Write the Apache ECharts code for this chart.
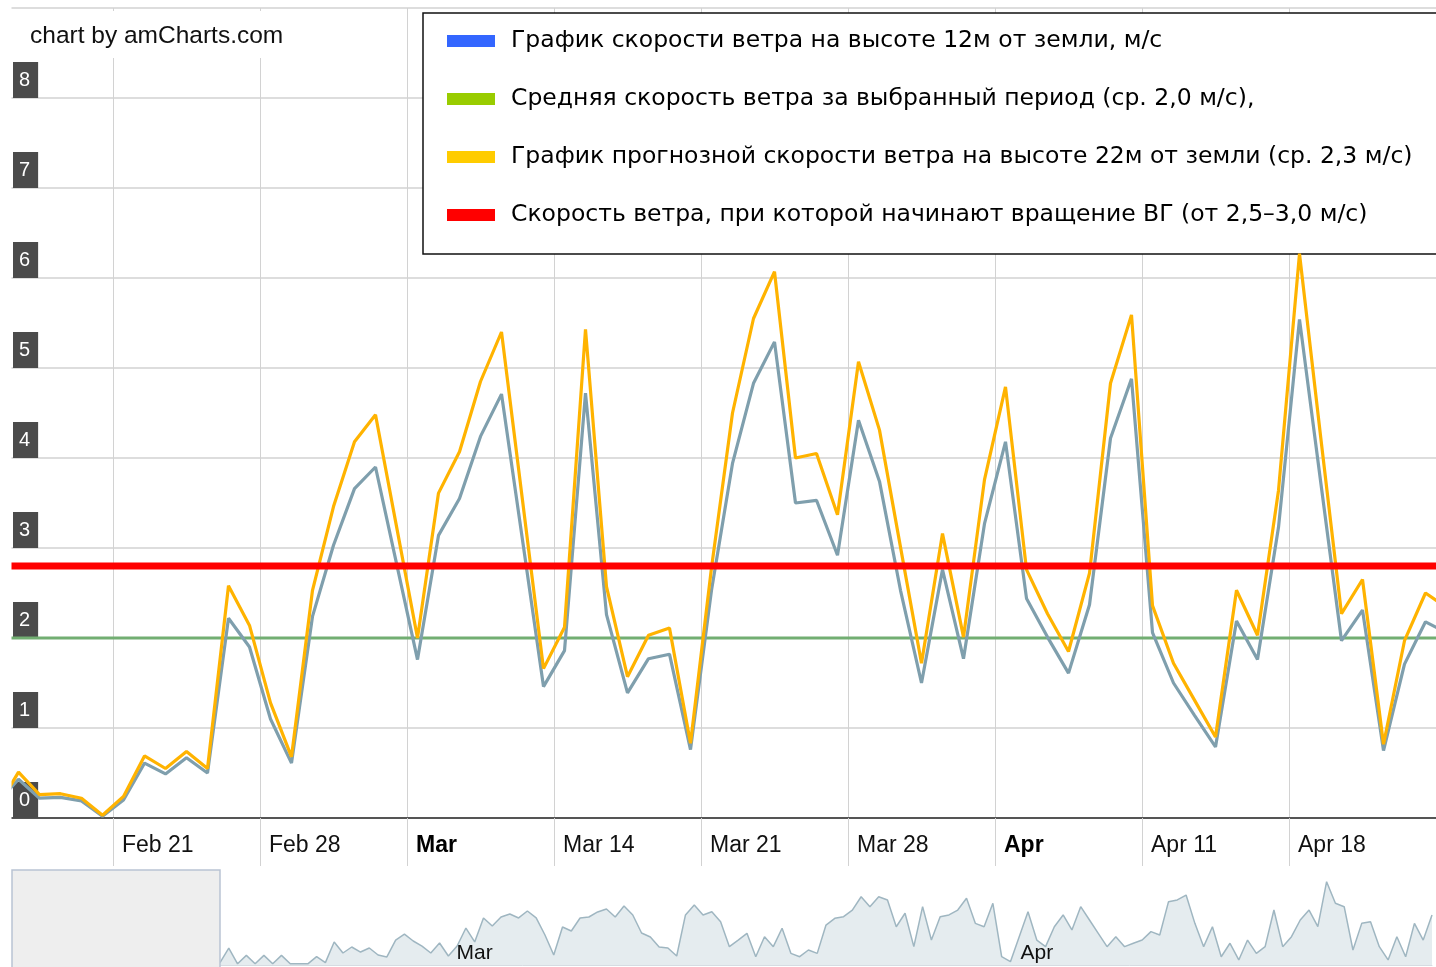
<!DOCTYPE html>
<html>
<head>
<meta charset="utf-8">
<title>Скорость ветра</title>
<script src="https://cdn.jsdelivr.net/npm/echarts@6/dist/echarts.min.js"></script>
<style>
html, body { margin: 0; padding: 0; background: #fff; }
#chart { width: 1436px; height: 967px; }
</style>
</head>
<body>
<div id="chart"></div>
<script>
// x = days since Feb 14; readings are taken at noon, first one on Feb 15
const firstDay = 1.5
const wind12 = [
  0.17, 0.43, 0.22, 0.23, 0.19, 0.02, 0.20, 0.61, 0.49, 0.67,
  0.50, 2.22, 1.90, 1.10, 0.61, 2.24, 3.03, 3.66, 3.90, 2.83,
  1.76, 3.14, 3.55, 4.24, 4.71, 3.09, 1.46, 1.86, 4.72, 2.26,
  1.39, 1.77, 1.82, 0.76, 2.53, 3.94, 4.83, 5.29, 3.50, 3.53,
  2.92, 4.42, 3.74, 2.53, 1.50, 2.76, 1.77, 3.27, 4.18, 2.44,
  2.01, 1.61, 2.37, 4.22, 4.88, 2.06, 1.50, 1.14, 0.79, 2.19,
  1.76, 3.23, 5.54, 3.75, 1.97, 2.31, 0.75, 1.71, 2.18, 2.06
]
const forecast22 = [
  0.12, 0.51, 0.26, 0.27, 0.22, 0.03, 0.24, 0.69, 0.55, 0.74,
  0.55, 2.58, 2.14, 1.28, 0.68, 2.53, 3.46, 4.18, 4.48, 3.24,
  2.00, 3.61, 4.07, 4.85, 5.40, 3.53, 1.66, 2.12, 5.43, 2.57,
  1.57, 2.03, 2.11, 0.83, 2.78, 4.50, 5.55, 6.07, 4.00, 4.05,
  3.37, 5.07, 4.31, 3.01, 1.72, 3.16, 2.01, 3.76, 4.79, 2.76,
  2.27, 1.85, 2.72, 4.83, 5.59, 2.36, 1.72, 1.31, 0.90, 2.53,
  2.03, 3.64, 6.27, 4.25, 2.27, 2.65, 0.82, 1.97, 2.50, 2.34
]
const avgSpeed = 2.0
const startSpeed = 2.8
const dayRange = [0, 70]

const xTickDays = [7, 14, 21, 28, 35, 42, 49, 56, 63]
const xTickText = ['Feb 21', 'Feb 28', 'Mar', 'Mar 14', 'Mar 21', 'Mar 28', 'Apr', 'Apr 11', 'Apr 18']
const monthTicks = ['Mar', 'Apr']

// scrollbar preview, half-day steps
const navValues = [
  0.2, 1.4, 0.1, 0.8, 0.1, 0.8, 0.1, 0.8, 0.1, 0.1,
  0.1, 0.7, 0.2, 1.92, 1.0, 1.5, 1.08, 1.42, 0.83, 0.67,
  2.08, 2.58, 2.0, 1.58, 1.0, 1.83, 0.75, 1.58, 3.08, 1.92,
  3.92, 3.25, 4.0, 4.25, 3.92, 4.5, 3.92, 2.5, 0.83, 3.17,
  2.83, 3.92, 4.0, 4.42, 4.67, 4.0, 4.92, 4.17, 2.67, 2.33,
  1.5, 1.42, 0.75, 4.17, 5.0, 4.17,
  4.44, 3.61, 1.53, 2.08, 2.64, 0.69, 2.36, 1.53, 3.06, 0.97,
  0.69, 1.25, 0.97, 3.33, 3.89, 4.03, 4.58, 5.69, 4.86, 5.69,
  5.42, 3.19, 4.31, 1.53, 4.86, 2.08, 4.03, 4.17, 4.58, 5.56,
  3.47, 3.19, 5.14, 0.69, 0.28, 2.36, 4.44, 2.08, 1.53, 3.19,
  4.17, 2.92, 4.86, 3.75, 2.64, 1.53, 2.36, 1.53, 1.81, 2.08,
  2.78, 2.5, 5.28, 5.42, 5.83, 3.47, 1.53, 3.19, 0.69, 1.81,
  0.42, 2.08, 0.97, 1.53, 4.58, 1.53, 2.36, 3.75, 4.58, 3.19,
  6.94, 5.14, 4.86, 1.25, 3.47, 3.61, 1.53, 0.42, 2.36, 0.69,
  3.47, 2.08, 4.17
]
const navTickIndex = [29, 93]
const navTickText = ['Mar', 'Apr']

const names = [
  'График скорости ветра на высоте 12м от земли, м/с',
  'Средняя скорость ветра за выбранный период (ср. 2,0 м/с),',
  'График прогнозной скорости ветра на высоте 22м от земли (ср. 2,3 м/с)',
  'Скорость ветра, при которой начинают вращение ВГ (от 2,5–3,0 м/с)'
]
const legendColors = ['#3366ff', '#99cc00', '#ffcc00', '#ff0000']

const chart = echarts.init(document.getElementById('chart'))
const gridColor = '#d2d2d2'
const labelFont = 'Liberation Sans, Arial, sans-serif'

chart.setOption({
  animation: false,
  backgroundColor: '#fff',
  title: {
    text: 'chart by amCharts.com',
    left: 12,
    top: 11,
    padding: [13, 18, 9, 18],
    backgroundColor: '#fff',
    textStyle: { fontFamily: labelFont, fontSize: 24.5, fontWeight: 'normal', color: '#111' }
  },
  legend: {
    orient: 'vertical',
    left: 423,
    top: 13,
    padding: [15, 80, 26, 24],
    itemGap: 32,
    itemWidth: 48,
    itemHeight: 12,
    icon: 'rect',
    selectedMode: false,
    backgroundColor: '#fff',
    borderColor: '#111',
    borderWidth: 1.5,
    itemStyle: { borderWidth: 0 },
    textStyle: {
      fontFamily: 'DejaVu Sans, Verdana, sans-serif',
      fontSize: 23.5,
      lineHeight: 26,
      color: '#000',
      padding: [0, 0, 0, 11]
    },
    data: names.map((n, i) => ({ name: n, itemStyle: { color: legendColors[i] } }))
  },
  grid: [
    { left: -34, right: 0, top: 8, bottom: 149, outerBoundsMode: 'none', containLabel: false },
    { left: 220, right: 4, top: 869, height: 96, outerBoundsMode: 'none', containLabel: false }
  ],
  xAxis: [
    {
      type: 'value',
      gridIndex: 0,
      min: dayRange[0],
      max: dayRange[1],
      interval: 7,
      axisLine: { show: true, onZero: false, lineStyle: { color: '#555', width: 2 } },
      axisTick: { show: true, inside: false, length: 48, lineStyle: { color: gridColor, width: 1 } },
      splitLine: { show: true, lineStyle: { color: gridColor, width: 1 } },
      axisLabel: {
        align: 'left',
        margin: 16,
        formatter: function (v) {
          const i = xTickDays.indexOf(v)
          if (i < 0) return ''
          const t = xTickText[i]
          return monthTicks.includes(t) ? '{b|' + t + '}' : '{n|' + t + '}'
        },
        rich: {
          n: { fontFamily: labelFont, fontSize: 23, color: '#111', padding: [0, 0, 0, 9] },
          b: { fontFamily: labelFont, fontSize: 23, color: '#000', fontWeight: 'bold', padding: [0, 0, 0, 9] }
        }
      }
    },
    {
      type: 'category',
      gridIndex: 1,
      z: 10,
      boundaryGap: false,
      data: navValues.map((v, i) => i),
      axisLine: { show: true, lineStyle: { color: '#d6dce2', width: 1 } },
      axisTick: { show: false },
      splitLine: { show: false },
      axisLabel: {
        inside: true,
        margin: 1,
        interval: 0,
        fontFamily: labelFont,
        fontSize: 21,
        color: '#111',
        formatter: function (v, idx) {
          const i = navTickIndex.indexOf(idx)
          return i < 0 ? '' : navTickText[i]
        }
      }
    }
  ],
  yAxis: [
    {
      type: 'value',
      gridIndex: 0,
      min: 0,
      max: 9,
      interval: 1,
      offset: -46,
      axisLine: { show: false, onZero: false },
      axisTick: { show: false },
      splitLine: { show: true, lineStyle: { color: gridColor, width: 1.5 } },
      axisLabel: {
        inside: true,
        margin: 1,
        showMaxLabel: false,
        verticalAlign: 'bottom',
        align: 'left',
        fontFamily: labelFont,
        fontSize: 20,
        lineHeight: 20,
        color: '#fff',
        backgroundColor: '#4b4b4b',
        padding: [8, 8, 8, 6]
      }
    },
    {
      type: 'value',
      gridIndex: 1,
      min: 0,
      max: 8,
      show: false
    }
  ],
  series: [
    {
      name: names[1],
      type: 'line',
      xAxisIndex: 0,
      yAxisIndex: 0,
      symbol: 'none',
      z: 2,
      lineStyle: { color: '#72ae72', width: 3 },
      itemStyle: { color: '#72ae72' },
      data: [[dayRange[0], avgSpeed], [dayRange[1], avgSpeed]]
    },
    {
      name: names[0],
      type: 'line',
      xAxisIndex: 0,
      yAxisIndex: 0,
      symbol: 'none',
      z: 3,
      lineStyle: { color: '#7f9fad', width: 3.2 },
      itemStyle: { color: '#7f9fad' },
      data: wind12.map((v, i) => [firstDay + i, v])
    },
    {
      name: names[2],
      type: 'line',
      xAxisIndex: 0,
      yAxisIndex: 0,
      symbol: 'none',
      z: 4,
      lineStyle: { color: '#ffb300', width: 3.2 },
      itemStyle: { color: '#ffb300' },
      data: forecast22.map((v, i) => [firstDay + i, v])
    },
    {
      name: names[3],
      type: 'line',
      xAxisIndex: 0,
      yAxisIndex: 0,
      symbol: 'none',
      z: 5,
      lineStyle: { color: '#ff0000', width: 7 },
      itemStyle: { color: '#ff0000' },
      data: [[dayRange[0], startSpeed], [dayRange[1], startSpeed]]
    },
    {
      name: 'scroll',
      type: 'line',
      xAxisIndex: 1,
      yAxisIndex: 1,
      symbol: 'none',
      z: 1,
      lineStyle: { color: '#9fb6c1', width: 1.5 },
      areaStyle: { color: '#e5ecef', opacity: 1 },
      data: navValues
    }
  ],
  graphic: [
    {
      type: 'rect',
      z: 100,
      shape: { x: 0, y: 0, width: 11.5, height: 870 },
      style: { fill: '#fff' }
    },
    {
      type: 'rect',
      z: 100,
      shape: { x: 12, y: 870, width: 208, height: 98 },
      style: { fill: '#eeeeee', stroke: '#b9c3d3', lineWidth: 1.5 }
    }
  ]
})
</script>
</body>
</html>
